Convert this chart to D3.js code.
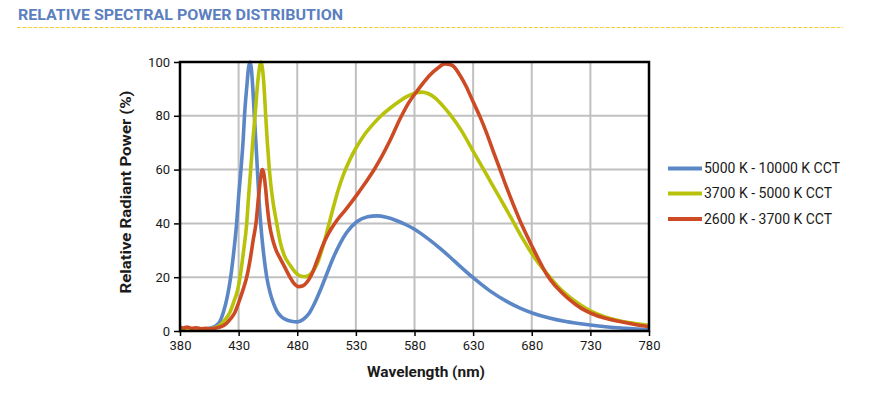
<!DOCTYPE html>
<html>
<head>
<meta charset="utf-8">
<script src="https://cdn.jsdelivr.net/npm/d3@7"></script>
<style>
  html, body { margin: 0; padding: 0; background: #ffffff; }
  svg { display: block; }
</style>
</head>
<body>
<svg id="chart" width="877" height="414"></svg>
<script>
// ---- Data ----
const chartTitle = "RELATIVE SPECTRAL POWER DISTRIBUTION";
const xTicks = [380, 430, 480, 530, 580, 630, 680, 730, 780];
const yTicks = [0, 20, 40, 60, 80, 100];
const seriesNames = ["5000 K - 10000 K CCT", "3700 K - 5000 K CCT", "2600 K - 3700 K CCT"];
const seriesColors = ["#5b87c7", "#b9c20b", "#cd4b24"];

const blueNm  = [380,390,400,405,410,414,417,420,423.2,426,428.3,430,432,434,435,437,438.5,439.7,441,442,443.4,445,446,447.5,448.8,451,454,457,460,462.5,466,470,475,480,485,490,495,500,505,510,516.5,522,530.7,540,547.7,556,565,573.3,580,590,601.8,610,618,630,644,659,670,681,695,709,720,730,745,760,780];
const blueVal = [0.3,0.3,0.5,1,1.8,3.5,7,12,20,30,40,50,60,72,80,91,98,100,97,91,80,68,60,48,40,30,20,14,10,7.5,5.5,4.3,3.6,3.4,4.3,6.5,10.5,15.5,21,26.5,32.5,36.5,40.6,42.5,42.8,42.3,41,39.4,37.8,34.8,30.7,27.6,24.4,19.8,15,10.9,8.5,6.6,4.8,3.5,2.8,2.2,1.5,1,0.4];

const yellowNm  = [380,390,400,405,410,415,419,422.6,426,429,431.2,434,436.9,438.5,440.3,442,444,446,447.5,448.8,450,451.5,453.1,454.5,456.2,459,462.5,465.5,469,473.8,478,482.3,487,492,497,502.3,506,510.8,515,519.3,525,530.7,537,544.9,552,559.1,566,573.3,580,586,592,598,604,610.3,620,630.2,641.6,653,664.3,672,680.8,692.8,704,712.7,722,730.5,742,755.5,768,780];
const yellowVal = [0.3,0.3,0.4,0.7,1.2,2.5,4.5,7,11,15,20,29,40,50,60,70,80,91,97,100,98.5,92,80,70,60,49,40,33,28,24.5,22,20.5,20.2,21.5,25,32,38,46,52.5,58,63.8,68.5,72.8,77,80.2,82.8,85,87.1,88.4,88.8,88.2,86.5,83.8,80.5,74.5,66.7,58,49.3,40.6,34.5,28.3,21.4,15.8,12.5,9.6,7.4,5.3,3.7,2.8,2.1];

const redNm  = [380,383,386,390,394,398,402,406,410,414,417,420,423,426.9,430,433.5,436.9,440,442.5,444.8,447,448.5,450.2,451.5,453,454.5,456.2,459,462,465.4,469,473.8,477,481,485,488,492.3,496.6,501,505.1,509,513.6,522,530.7,538,546.3,552,559.1,567.6,575,581.8,587,593.2,600,606,612,618.9,624,630.2,636,641.6,647,653,658,664.3,672,680.8,686,692.8,700,704,712.7,722,730.5,742,755.5,768,780];
const redVal = [1.4,1.1,1.5,1,1.2,0.8,1,0.8,1,1.5,2,3,4.5,7,10.5,15,20,27,34,40,50,56,60,58.5,53,46,40,34,30,27,24,20,17.8,16.5,16.8,18,21,25.8,31,35,38,41,45.5,50.5,55,60.5,64.8,70.8,78.8,84.8,89,92,95.2,97.8,99.3,98.8,95,91,85,79.5,73.5,67,60,54,47,39,31,26.5,21,16.8,15,11.5,8.5,6.6,4.8,3.5,2.4,1.6];

const xAxisTitle = "Wavelength (nm)";
const yAxisTitle = "Relative Radiant Power (%)";

// ---- Layout ----
const svg = d3.select("#chart");
const plot = { left: 180, right: 649, top: 62, bottom: 331 };
const font = "Roboto, 'Noto Sans', sans-serif";

const x = d3.scaleLinear().domain([380, 780]).range([plot.left, plot.right]);
const y = d3.scaleLinear().domain([0, 100]).range([plot.bottom, plot.top]);

// Title
svg.append("text")
  .attr("x", 18).attr("y", 20)
  .attr("font-family", font)
  .attr("font-weight", "bold")
  .attr("font-size", 14)
  .attr("fill", "#5b7fbf")
  .attr("textLength", 325)
  .attr("lengthAdjust", "spacingAndGlyphs")
  .text(chartTitle);

svg.append("line")
  .attr("x1", 17).attr("x2", 843)
  .attr("y1", 27.5).attr("y2", 27.5)
  .attr("stroke", "#f0d43a")
  .attr("stroke-width", 1)
  .attr("stroke-dasharray", "4,1.5");

// Gridlines
const grid = svg.append("g");
grid.selectAll("line.v").data(xTicks.slice(1, -1)).enter().append("line")
  .attr("x1", d => x(d)).attr("x2", d => x(d))
  .attr("y1", plot.top).attr("y2", plot.bottom)
  .attr("stroke", "#c0c0c0").attr("stroke-width", 2);
grid.selectAll("line.h").data(yTicks.slice(1, -1)).enter().append("line")
  .attr("x1", plot.left).attr("x2", plot.right)
  .attr("y1", d => y(d)).attr("y2", d => y(d))
  .attr("stroke", "#c0c0c0").attr("stroke-width", 2);

// Axes
const xAxis = d3.axisBottom(x).tickValues(xTicks).tickSize(5).tickPadding(5).tickFormat(d3.format("d"));
const yAxis = d3.axisLeft(y).tickValues(yTicks).tickSize(6).tickPadding(4).tickFormat(d3.format("d"));

const gx = svg.append("g").attr("transform", `translate(0,${plot.bottom})`).call(xAxis);
const gy = svg.append("g").attr("transform", `translate(${plot.left},0)`).call(yAxis);
[gx, gy].forEach(g => {
  g.select(".domain").remove();
  g.selectAll(".tick line").attr("stroke", "#000").attr("stroke-width", 1.5);
  g.selectAll(".tick text")
    .attr("font-family", font)
    .attr("font-size", 13)
    .attr("fill", "#1a1a1a");
});

// Series
const series = [
  { nm: blueNm, val: blueVal },
  { nm: yellowNm, val: yellowVal },
  { nm: redNm, val: redVal }
];
const line = d3.line()
  .x(d => x(d[0]))
  .y(d => y(d[1]))
  .curve(d3.curveMonotoneX);

svg.append("defs").append("clipPath").attr("id", "clip")
  .append("rect")
  .attr("x", plot.left).attr("y", plot.top - 2)
  .attr("width", plot.right - plot.left).attr("height", plot.bottom - plot.top + 2);

const gLines = svg.append("g").attr("clip-path", "url(#clip)");
series.forEach((s, i) => {
  const pts = s.nm.map((n, j) => [n, s.val[j]]);
  gLines.append("path")
    .datum(pts)
    .attr("d", line)
    .attr("fill", "none")
    .attr("stroke", seriesColors[i])
    .attr("stroke-width", 3.6)
    .attr("stroke-linejoin", "round")
    .attr("stroke-linecap", "round");
});

// Plot border
svg.append("rect")
  .attr("x", plot.left).attr("y", plot.top)
  .attr("width", plot.right - plot.left).attr("height", plot.bottom - plot.top)
  .attr("fill", "none")
  .attr("stroke", "#000")
  .attr("stroke-width", 2.5);

// Axis titles
svg.append("text")
  .attr("x", 426).attr("y", 377)
  .attr("text-anchor", "middle")
  .attr("font-family", font)
  .attr("font-weight", "bold")
  .attr("font-size", 15)
  .attr("fill", "#1a1a1a")
  .attr("textLength", 118)
  .attr("lengthAdjust", "spacingAndGlyphs")
  .text(xAxisTitle);

svg.append("text")
  .attr("transform", `translate(131,192) rotate(-90)`)
  .attr("text-anchor", "middle")
  .attr("font-family", font)
  .attr("font-weight", "bold")
  .attr("font-size", 15)
  .attr("fill", "#1a1a1a")
  .attr("textLength", 203)
  .attr("lengthAdjust", "spacingAndGlyphs")
  .text(yAxisTitle);

// Legend
const legend = svg.append("g");
const legendY = [168.5, 193.5, 219];
seriesNames.forEach((name, i) => {
  legend.append("line")
    .attr("x1", 668).attr("x2", 702)
    .attr("y1", legendY[i]).attr("y2", legendY[i])
    .attr("stroke", seriesColors[i])
    .attr("stroke-width", 4);
  legend.append("text")
    .attr("x", 704).attr("y", legendY[i])
    .attr("dy", "0.35em")
    .attr("font-family", font)
    .attr("font-size", 14)
    .attr("fill", "#1a1a1a")
    .text(name);
});
</script>
</body>
</html>
